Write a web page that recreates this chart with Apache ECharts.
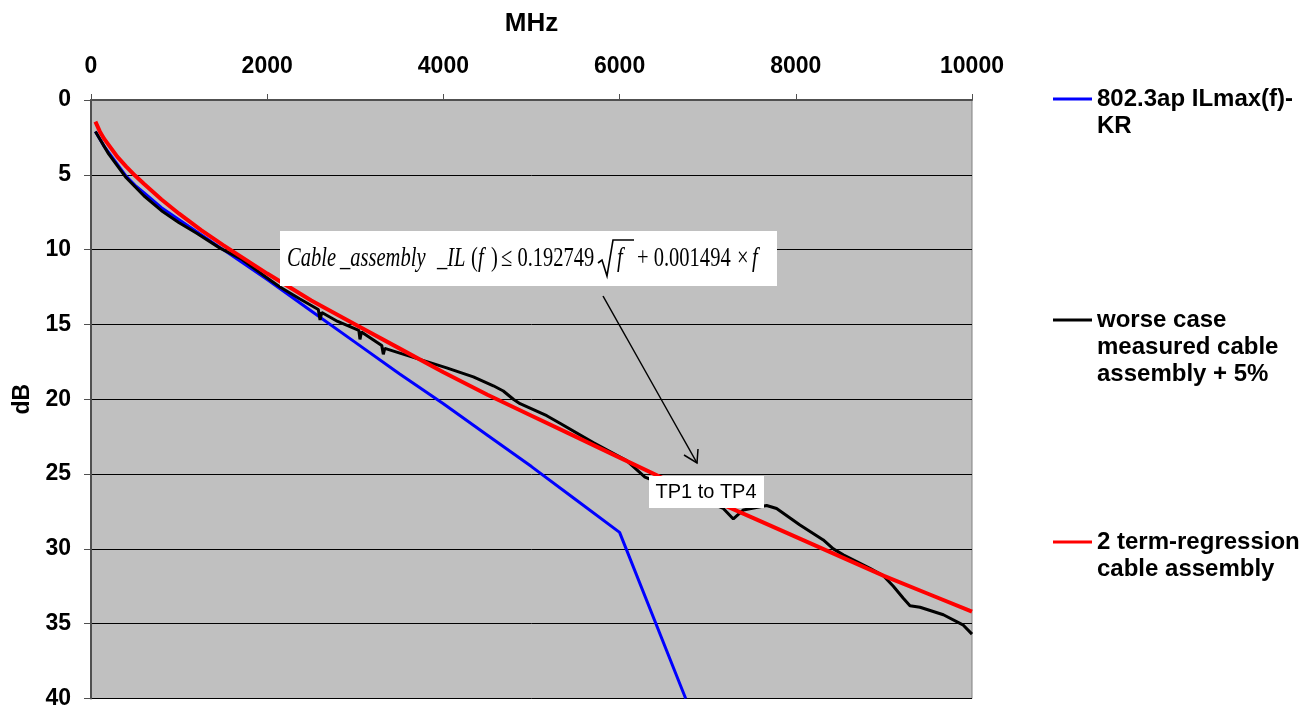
<!DOCTYPE html>
<html>
<head>
<meta charset="utf-8">
<script src="https://cdn.jsdelivr.net/npm/echarts@6/dist/echarts.min.js"></script>
<style>
  html, body { margin: 0; padding: 0; background: #fff; }
  #chart { width: 1302px; height: 710px; }
</style>
</head>
<body>
<div id="chart"></div>
<script>
// 802.3ap limit line (MHz, dB)
var krFreq = [50, 100, 150, 200, 300, 400, 500, 600, 800, 1000, 1250, 1500, 2000, 2500, 3000, 3500, 4000, 4500, 5000, 5500, 6000, 6750];
var krLoss = [2.1, 2.6, 3.1, 3.5, 4.3, 5.1, 5.7, 6.2, 7.2, 8.0, 9.0, 10.0, 12.0, 14.1, 16.2, 18.3, 20.3, 22.4, 24.5, 26.7, 28.9, 40.0];

// worst case measured cable assembly + 5%
var measFreq = [50, 100, 200, 300, 400, 500, 600, 800, 1000, 1200, 1464, 1700, 2000, 2145, 2372, 2580, 2600, 2620, 2800, 3040, 3053, 3070,
  3300, 3318, 3335, 3659, 4037, 4340, 4567, 4680, 4794, 4870, 5173, 5323, 5701, 6080, 6288, 6500, 6850, 7177, 7291, 7405, 7669, 7782,
  8047, 8312, 8426, 8539, 8842, 8994, 9107, 9220, 9296, 9410, 9675, 9902, 10000];
var measLoss = [2.1, 2.6, 3.6, 4.4, 5.2, 5.8, 6.4, 7.4, 8.2, 8.9, 9.9, 10.6, 11.9, 12.5, 13.3, 14.0, 14.7, 14.2, 14.8, 15.4, 16.0, 15.5,
  16.4, 17.0, 16.6, 17.2, 17.9, 18.5, 19.1, 19.45, 20.0, 20.3, 21.1, 21.6, 22.9, 24.1, 25.2, 25.7, 26.5, 27.3, 28.0, 27.4, 27.1, 27.3,
  28.4, 29.4, 30.0, 30.4, 31.3, 31.8, 32.5, 33.3, 33.8, 33.9, 34.4, 35.1, 35.7];

// 2 term regression
var regFreq = [50, 100, 150, 200, 300, 400, 500, 600, 800, 1000, 1250, 1500, 2000, 2500, 3000, 3500, 4000, 4500, 5000, 5500, 6000, 6500, 7000, 7500, 8000, 8500, 9000, 9500, 10000];
var regLoss = [1.45, 2.1, 2.6, 3.0, 3.8, 4.45, 5.05, 5.6, 6.65, 7.6, 8.7, 9.7, 11.6, 13.4, 15.0, 16.6, 18.2, 19.7, 21.1, 22.5, 23.9, 25.3, 26.6, 27.9, 29.2, 30.5, 31.8, 33.0, 34.2];

var names = ['802.3ap ILmax(f)-\nKR', 'worse case\nmeasured cable\nassembly + 5%', '2 term-regression\ncable assembly'];

function pairs(xs, ys) {
  return xs.map(function (x, i) { return [x, ys[i]]; });
}

var chart = echarts.init(document.getElementById('chart'));

var fontAxis = 'Liberation Sans';

// one legend per entry; blank lines in front keep the icon level with the first line
function legendAt(name, iconY) {
  var lines = name.split('\n').length;
  var total = (2 * lines - 1) * 27;
  return {
    data: [name],
    left: 1053,
    top: iconY - total / 2,
    padding: 0,
    icon: 'rect',
    itemWidth: 39,
    itemHeight: 3,
    selectedMode: false,
    formatter: function (n) { return new Array(lines).join('\n') + n; },
    textStyle: { fontFamily: fontAxis, fontWeight: 'bold', fontSize: 24, lineHeight: 27, color: '#000' }
  };
}

// formula pieces: [text, x, italic]
var formula = [
  ['Cable', 287, true], ['_assembly', 340, true], ['_IL', 437, true], ['(', 471, false], ['f', 478, true],
  [')', 491, false], ['≤ 0.192749', 501, false], ['f', 617, true],
  ['+ 0.001494', 637, false], ['×', 737, false], ['f', 752, true]
];

var graphics = [
  { type: 'rect', z: 100, shape: { x: 280, y: 231, width: 497, height: 55 }, style: { fill: '#fff' } },
  // radical sign over f
  {
    type: 'polyline', z: 101,
    shape: { points: [[598, 263], [602, 260], [607, 276], [613, 240], [634, 240]] },
    style: { stroke: '#000', lineWidth: 1.6, fill: null }
  },
  // arrow to the test points label
  { type: 'line', z: 100, shape: { x1: 603, y1: 296, x2: 697, y2: 463 }, style: { stroke: '#000', lineWidth: 1.5 } },
  { type: 'polyline', z: 100, shape: { points: [[684, 455], [697, 463], [698, 449]] }, style: { stroke: '#000', lineWidth: 1.5, fill: null } },
  { type: 'rect', z: 100, shape: { x: 649, y: 476, width: 115, height: 32 }, style: { fill: '#fff' } },
  {
    type: 'text', z: 101, x: 706, y: 492,
    style: { text: 'TP1 to TP4', fontFamily: fontAxis, fontSize: 20, fill: '#000', align: 'center', verticalAlign: 'middle' }
  }
];
formula.forEach(function (p) {
  graphics.push({
    type: 'text', z: 101, x: p[1], y: 259, scaleX: 0.76,
    style: {
      text: p[0], fontFamily: 'Liberation Serif', fontSize: 27, fontStyle: p[2] ? 'italic' : 'normal',
      fill: '#000', verticalAlign: 'middle'
    }
  });
});

var option = {
  animation: false,
  backgroundColor: '#fff',
  grid: {
    left: 91, right: 330, top: 100, bottom: 10,
    show: true, backgroundColor: '#c0c0c0', borderColor: '#808080', borderWidth: 1
  },
  legend: [
    legendAt(names[0], 99),
    legendAt(names[1], 320),
    legendAt(names[2], 542)
  ],
  xAxis: {
    type: 'value',
    position: 'top',
    min: 0, max: 10000, interval: 2000,
    name: 'MHz',
    nameLocation: 'middle',
    nameGap: 63,
    nameTextStyle: { fontFamily: fontAxis, fontWeight: 'bold', fontSize: 26, color: '#000' },
    axisLine: { show: true, lineStyle: { color: '#505050', width: 2 } },
    axisTick: { show: true, length: 6, lineStyle: { color: '#505050', width: 1 } },
    axisLabel: {
      margin: 22, fontFamily: fontAxis, fontWeight: 'bold', fontSize: 23, color: '#000',
      formatter: function (v) { return String(v); }
    },
    splitLine: { show: false }
  },
  yAxis: {
    type: 'value',
    inverse: true,
    min: 0, max: 40, interval: 5,
    name: 'dB',
    nameLocation: 'middle',
    nameGap: 52,
    nameTextStyle: { fontFamily: fontAxis, fontWeight: 'bold', fontSize: 23, color: '#000' },
    axisLine: { show: true, lineStyle: { color: '#505050', width: 2 } },
    axisTick: { show: true, length: 7, lineStyle: { color: '#505050', width: 1 } },
    axisLabel: {
      margin: 20, fontFamily: fontAxis, fontWeight: 'bold', fontSize: 23, color: '#000',
      formatter: function (v) { return String(v); }
    },
    splitLine: { show: true, lineStyle: { color: '#000', width: 1 } }
  },
  series: [
    {
      name: names[0], type: 'line', symbol: 'none',
      lineStyle: { color: '#0000ff', width: 3 }, itemStyle: { color: '#0000ff' },
      data: pairs(krFreq, krLoss)
    },
    {
      name: names[1], type: 'line', symbol: 'none',
      lineStyle: { color: '#000000', width: 3 }, itemStyle: { color: '#000000' },
      data: pairs(measFreq, measLoss)
    },
    {
      name: names[2], type: 'line', symbol: 'none',
      lineStyle: { color: '#ff0000', width: 4 }, itemStyle: { color: '#ff0000' },
      data: pairs(regFreq, regLoss)
    }
  ],
  graphic: graphics
};

chart.setOption(option);
</script>
</body>
</html>
